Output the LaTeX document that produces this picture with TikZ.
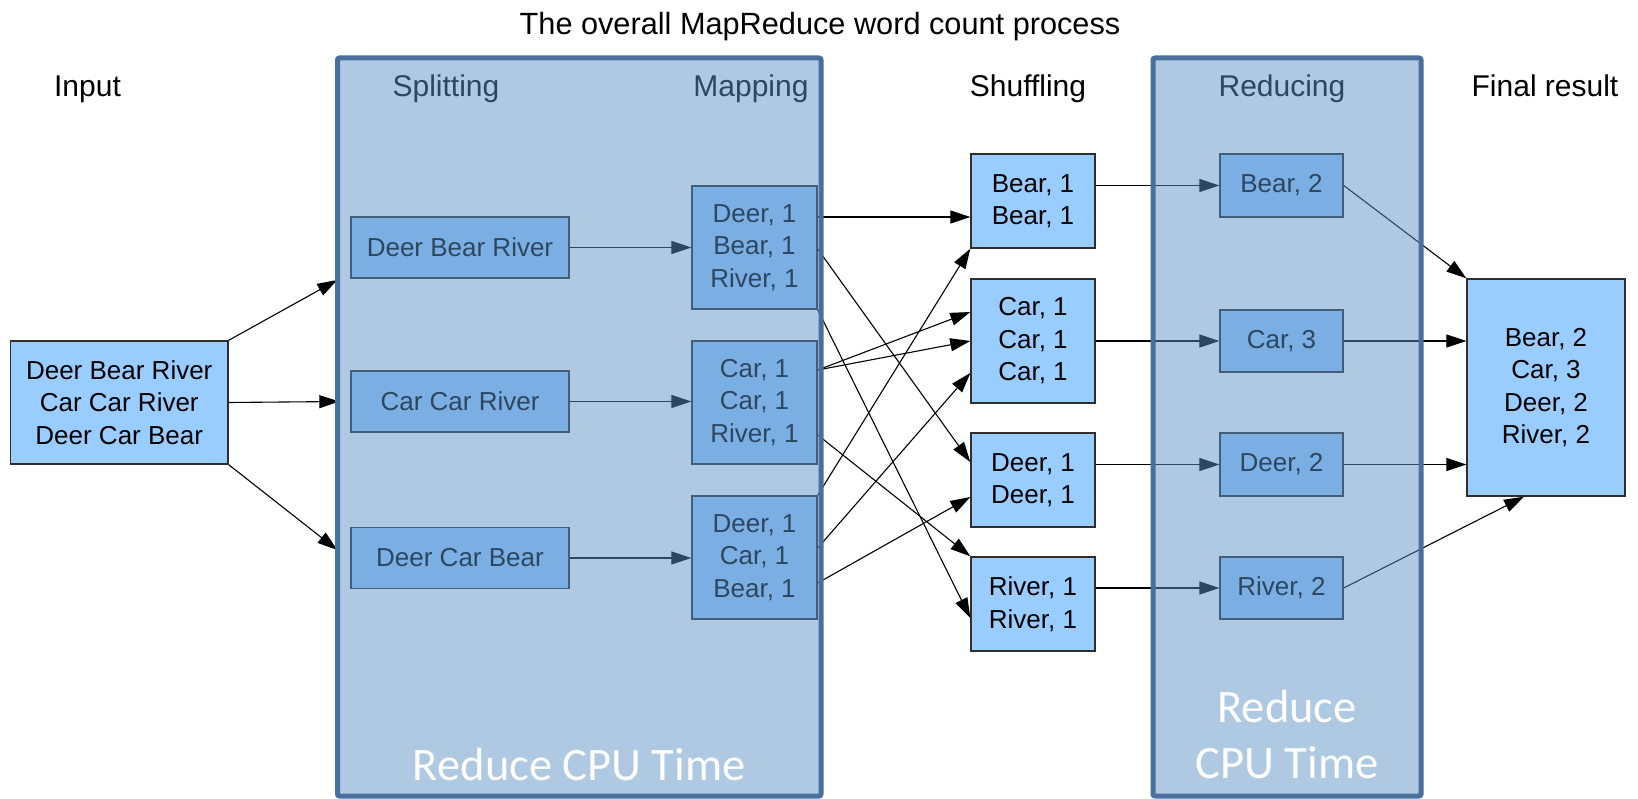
\documentclass[tikz,border=0pt]{standalone}
\usepackage{fontspec}
\setmainfont{Liberation Sans}
\newfontfamily\cpufont{Carlito}
\usetikzlibrary{arrows.meta}
\definecolor{boxfill}{HTML}{99CCFF}
\definecolor{veil}{RGB}{92,145,198}
\definecolor{veilrim}{RGB}{74,111,154}
\definecolor{edgegray}{HTML}{2E2E2E}

\begin{document}
\begin{tikzpicture}[x=1pt,y=-1pt,
  box/.style={draw=edgegray, line width=1.4pt, fill=boxfill, inner sep=0pt,
    align=center, font=\fontsize{26}{32.5}\selectfont},
  head/.style={anchor=base, font=\fontsize{30}{36}\selectfont},
  link/.style={-{Triangle[length=20pt,width=13pt]}, line width=1.1pt},
  stage/.style={draw=veilrim, line width=5pt, fill=veil, fill opacity=0.49,
    rounded corners=2pt, inner sep=0pt},
  note/.style={text=white, align=center, font=\cpufont\fontsize{46.5}{56}\selectfont}]

\useasboundingbox (0,0) rectangle (1638,799);

% title and column headings
\node[head, font=\fontsize{30.7}{36}\selectfont] (title) at (820,35) {The overall MapReduce word count process};
\node[head] (hin)  at (87.5,97) {Input};
\node[head] (hsp)  at (446,97)  {Splitting};
\node[head] (hmap) at (751,97)  {Mapping};
\node[head] (hsh)  at (1028,97) {Shuffling};
\node[head] (hred) at (1282,97) {Reducing};
\node[head] (hfin) at (1545,97) {Final result};

% input
\node[box, minimum width=217.5pt, minimum height=123pt] (in) at (119.25,402.5)
  {Deer Bear River\\Car Car River\\Deer Car Bear};

% splitting
\node[box, minimum width=218pt, minimum height=61pt] (s1) at (460,247.5) {Deer Bear River};
\node[box, minimum width=218pt, minimum height=61pt] (s2) at (460,401.5) {Car Car River};
\node[box, minimum width=218pt, minimum height=61pt] (s3) at (460,558)   {Deer Car Bear};

% mapping
\node[box, minimum width=125pt, minimum height=123pt] (m1) at (754.5,247.5) {Deer, 1\\Bear, 1\\River, 1};
\node[box, minimum width=125pt, minimum height=123pt] (m2) at (754.5,402.5) {Car, 1\\Car, 1\\River, 1};
\node[box, minimum width=125pt, minimum height=123pt] (m3) at (754.5,557.5) {Deer, 1\\Car, 1\\Bear, 1};

% shuffling
\node[box, minimum width=124pt, minimum height=94pt]  (h1) at (1033,201) {Bear, 1\\Bear, 1};
\node[box, minimum width=124pt, minimum height=124pt] (h2) at (1033,341) {Car, 1\\Car, 1\\Car, 1};
\node[box, minimum width=124pt, minimum height=94pt]  (h3) at (1033,480) {Deer, 1\\Deer, 1};
\node[box, minimum width=124pt, minimum height=94pt]  (h4) at (1033,604) {River, 1\\River, 1};

% reducing
\node[box, minimum width=123pt, minimum height=63pt] (r1) at (1281.5,185.5) {Bear, 2};
\node[box, minimum width=123pt, minimum height=62pt] (r2) at (1281.5,341)   {Car, 3};
\node[box, minimum width=123pt, minimum height=63pt] (r3) at (1281.5,464.5) {Deer, 2};
\node[box, minimum width=123pt, minimum height=62pt] (r4) at (1281.5,588)   {River, 2};

% final result
\node[box, minimum width=158pt, minimum height=217pt] (fin) at (1546,387.5)
  {Bear, 2\\Car, 3\\Deer, 2\\River, 2};

% input -> splitting
\draw[link] (in.north east) -- ([xshift=-13pt,yshift=-32.5pt]s1.west);
\draw[link] (in.east) -- ([xshift=-11pt]s2.west);
\draw[link] (in.south east) -- ([xshift=-13pt,yshift=8pt]s3.west);

% splitting -> mapping
\draw[link] (s1.east) -- (m1.west);
\draw[link] (s2.east) -- (s2.east -| m2.west);
\draw[link] (s3.east) -- (s3.east -| m3.west);

% mapping -> shuffling
\draw[link] ([yshift=30.5pt]m1.east) -- ([yshift=-16pt]h1.west);
\draw[link] ([yshift=-1.5pt]m1.east) -- ([yshift=18pt]h3.west);
\draw[link] (m1.south east) -- ([yshift=-14pt]h4.west);
\draw[link] ([yshift=32.5pt]m2.east) -- ([yshift=29pt]h2.west);
\draw[link] ([yshift=32.5pt]m2.east) -- (h2.west);
\draw[link] ([yshift=-32.5pt]m2.east) -- (h4.north west);
\draw[link] (m3.north east) -- (h1.south west);
\draw[link] ([yshift=9.5pt]m3.east) -- ([yshift=-32pt]h2.west);
\draw[link] ([yshift=-25.5pt]m3.east) -- ([yshift=-17pt]h3.west);

% shuffling -> reducing
\draw[link] ([yshift=15.5pt]h1.east) -- (r1.west);
\draw[link] (h2.east) -- (r2.west);
\draw[link] ([yshift=15.5pt]h3.east) -- (r3.west);
\draw[link] ([yshift=16pt]h4.east) -- (r4.west);

% reducing -> final result
\draw[link] (r1.east) -- (fin.north west);
\draw[link] (r2.east) -- (r2.east -| fin.west);
\draw[link] (r3.east) -- (r3.east -| fin.west);
\draw[link] (r4.east) -- ([xshift=-22pt]fin.south);

% translucent stage panels laid over the flow
\node[stage, minimum width=483.5pt, minimum height=738pt] (mapstage) at (579.25,427) {};
\node[stage, minimum width=268pt, minimum height=738pt] (redstage) at (1287,427) {};

\node[note, anchor=base] (cpu1) at (579.25,780) {Reduce CPU Time};
\node[note, anchor=base] (cpu2) at (1287,778) {Reduce\\CPU Time};
\end{tikzpicture}
\end{document}
